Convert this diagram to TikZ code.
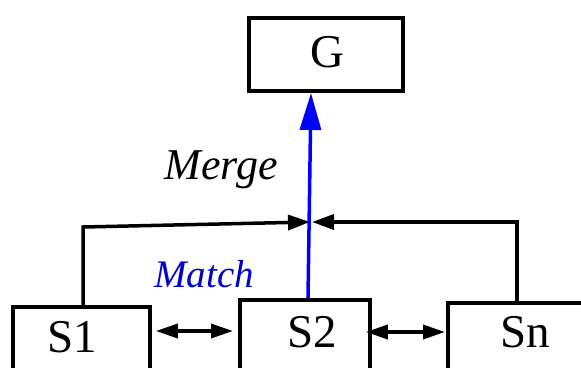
\documentclass[tikz,border=0pt]{standalone}
\usepackage{fontspec}
\setmainfont{Liberation Serif}
\usetikzlibrary{arrows.meta}
\definecolor{matchblue}{RGB}{0,0,205}
\begin{document}
\begin{tikzpicture}[x=1pt,y=-1pt,
  box/.style={draw,line width=3.8pt,rectangle,inner sep=0pt,anchor=north west},
  lbl/.style={inner sep=0pt,anchor=base,font=\fontsize{47}{50}\selectfont},
  conn/.style={line width=3.5pt,-{Triangle[length=22pt,width=15pt]}},
  dbl/.style={line width=3.5pt,{Triangle[length=22pt,width=14pt]}-{Triangle[length=22pt,width=14pt]}},
  mergearrow/.style={line width=3.5pt,blue,-{Triangle[length=37pt,width=21pt]}}]
\useasboundingbox (0,0) rectangle (581,367);
\clip (0,0) rectangle (581,367);
\fill[white] (0,0) rectangle (581,367);
% boxes
\node[box,minimum width=154pt,minimum height=73pt] (G) at (247,16) {};
\node[box,minimum width=137pt,minimum height=120pt] (S1) at (11,305) {};
\node[box,minimum width=130pt,minimum height=120pt] (S2) at (238,298) {};
\node[box,minimum width=200pt,minimum height=120pt] (Sn) at (446,301) {};
% labels
\node[lbl] (tG) at (327.5,67) {G};
\node[lbl] (tS1) at (72.5,352) {S1};
\node[lbl] (tS2) at (312.5,347) {S2};
\node[lbl] (tSn) at (525.5,347) {Sn};
\node[inner sep=0pt,anchor=base,font=\fontsize{44}{48}\selectfont\itshape] (merge) at (221,179) {Merge};
\node[inner sep=0pt,anchor=base,text=matchblue,font=\fontsize{39}{44}\selectfont\itshape] (match) at (204,287) {Match};
% coordinates
\coordinate (J) at (310,222);
\coordinate (L) at (83,227);
\coordinate (R) at (517,222);
\coordinate (m1) at (0,331);
\coordinate (m2) at (0,332);
\coordinate (Gtip) at (311,93);
% connectors
\draw[conn] (S1.north west -| L) -- (L) -- (J);
\draw[conn] (Sn.north west -| R) -- (R) -- ([xshift=2pt]J);
\draw[dbl] ([xshift=4pt]S1.north east |- m1) -- ([xshift=-5pt]S2.north west |- m1);
\draw[dbl] ([xshift=-6pt]S2.north east |- m2) -- ([xshift=-1pt]Sn.north west |- m2);
\draw[mergearrow] ([xshift=70pt]S2.north west) -- (Gtip);
\end{tikzpicture}
\end{document}
